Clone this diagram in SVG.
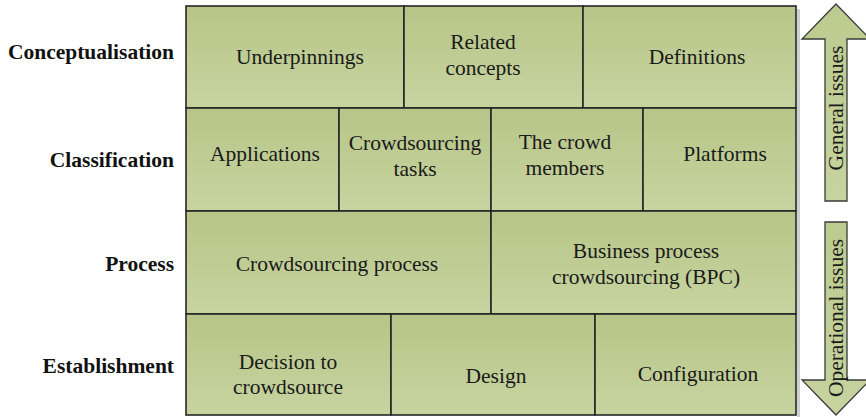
<svg xmlns="http://www.w3.org/2000/svg" width="866" height="417" viewBox="0 0 866 417">
  <defs>
    <linearGradient id="cellFill" x1="0" y1="0" x2="0" y2="1">
      <stop offset="0" stop-color="#b7c588"/>
      <stop offset="1" stop-color="#c7d4a0"/>
    </linearGradient>
    <linearGradient id="arrowFill" x1="0" y1="0" x2="0" y2="1">
      <stop offset="0" stop-color="#bccb8e"/>
      <stop offset="1" stop-color="#c6d39f"/>
    </linearGradient>
  </defs>
  <style>
    .cell { fill: url(#cellFill); stroke: #262626; stroke-width: 1.6; }
    .arrow { fill: url(#arrowFill); stroke: #3a3a3a; stroke-width: 1.3; stroke-linejoin: miter; }
    .lbl { fill: #1a1a1a; text-anchor: middle; }
    .row { font-weight: bold; fill: #111; text-anchor: end; }
  </style>
  <rect width="866" height="417" fill="#ffffff"/>

  <!-- soft drop shadow along the right edge of the grid -->
  <rect x="797" y="9" width="3" height="408" fill="#cfcfcf"/>

  <!-- row labels -->
  <g id="row-conceptualisation"><text class="row" font-family="Liberation Serif" font-size="21.5" x="174" y="59">Conceptualisation</text></g>
  <g id="row-classification"><text class="row" font-family="Liberation Serif" font-size="21.5" x="174" y="167">Classification</text></g>
  <g id="row-process"><text class="row" font-family="Liberation Serif" font-size="21.5" x="174" y="271">Process</text></g>
  <g id="row-establishment"><text class="row" font-family="Liberation Serif" font-size="21.5" x="174" y="373">Establishment</text></g>

  <!-- row 1 -->
  <g id="underpinnings">
    <rect class="cell" x="186" y="6" width="218" height="102"/>
    <text class="lbl" font-family="Liberation Serif" font-size="21.5" x="300" y="64">Underpinnings</text>
  </g>
  <g id="related-concepts">
    <rect class="cell" x="404" y="6" width="179" height="102"/>
    <text class="lbl" font-family="Liberation Serif" font-size="21.5" x="483" y="49">Related</text>
    <text class="lbl" font-family="Liberation Serif" font-size="21.5" x="483" y="75">concepts</text>
  </g>
  <g id="definitions">
    <rect class="cell" x="583" y="6" width="213" height="102"/>
    <text class="lbl" font-family="Liberation Serif" font-size="21.5" x="697" y="64">Definitions</text>
  </g>

  <!-- row 2 -->
  <g id="applications">
    <rect class="cell" x="186" y="108" width="153" height="103"/>
    <text class="lbl" font-family="Liberation Serif" font-size="21.5" x="265" y="161">Applications</text>
  </g>
  <g id="crowdsourcing-tasks">
    <rect class="cell" x="339" y="108" width="152" height="103"/>
    <text class="lbl" font-family="Liberation Serif" font-size="21.5" x="415" y="150">Crowdsourcing</text>
    <text class="lbl" font-family="Liberation Serif" font-size="21.5" x="415" y="176">tasks</text>
  </g>
  <g id="crowd-members">
    <rect class="cell" x="491" y="108" width="152" height="103"/>
    <text class="lbl" font-family="Liberation Serif" font-size="21.5" x="565" y="149">The crowd</text>
    <text class="lbl" font-family="Liberation Serif" font-size="21.5" x="565" y="175">members</text>
  </g>
  <g id="platforms">
    <rect class="cell" x="643" y="108" width="153" height="103"/>
    <text class="lbl" font-family="Liberation Serif" font-size="21.5" x="725" y="161">Platforms</text>
  </g>

  <!-- row 3 -->
  <g id="crowdsourcing-process">
    <rect class="cell" x="186" y="211" width="305" height="103"/>
    <text class="lbl" font-family="Liberation Serif" font-size="21.5" x="337" y="271">Crowdsourcing process</text>
  </g>
  <g id="bpc">
    <rect class="cell" x="491" y="211" width="305" height="103"/>
    <text class="lbl" font-family="Liberation Serif" font-size="21.5" x="646" y="258">Business process</text>
    <text class="lbl" font-family="Liberation Serif" font-size="21.5" x="646" y="284">crowdsourcing (BPC)</text>
  </g>

  <!-- row 4 -->
  <g id="decision">
    <rect class="cell" x="186" y="314" width="205" height="101"/>
    <text class="lbl" font-family="Liberation Serif" font-size="21.5" x="288" y="369">Decision to</text>
    <text class="lbl" font-family="Liberation Serif" font-size="21.5" x="288" y="394">crowdsource</text>
  </g>
  <g id="design">
    <rect class="cell" x="391" y="314" width="204" height="101"/>
    <text class="lbl" font-family="Liberation Serif" font-size="21.5" x="496" y="383">Design</text>
  </g>
  <g id="configuration">
    <rect class="cell" x="595" y="314" width="201" height="101"/>
    <text class="lbl" font-family="Liberation Serif" font-size="21.5" x="698" y="381">Configuration</text>
  </g>

  <!-- side arrows -->
  <g id="general-issues">
    <path class="arrow" d="M836 4 L870 39 L847 39 L847 201 L825 201 L825 39 L802 39 Z"/>
    <text class="lbl" font-family="Liberation Serif" font-size="21.5" transform="translate(843 108) rotate(-90)">General issues</text>
  </g>
  <g id="operational-issues">
    <path class="arrow" d="M825 222 L847 222 L847 380 L870 380 L836 415 L802 380 L825 380 Z"/>
    <text class="lbl" font-family="Liberation Serif" font-size="21.5" transform="translate(843 318) rotate(-90)">Operational issues</text>
  </g>
</svg>
